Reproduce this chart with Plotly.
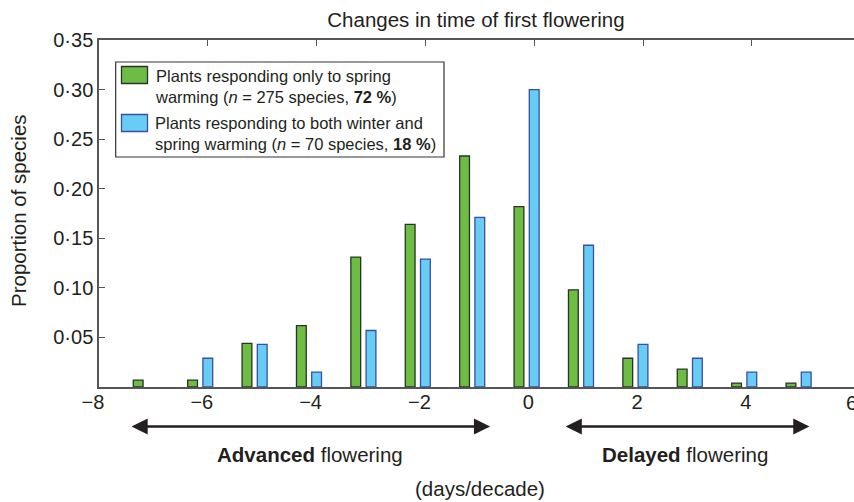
import plotly.graph_objects as go

# ---- data ----
days = [-7, -6, -5, -4, -3, -2, -1, 0, 1, 2, 3, 4, 5]
spring_only = [0.007, 0.007, 0.044, 0.062, 0.131, 0.164, 0.233, 0.182, 0.098, 0.029, 0.018, 0.004, 0.004]
winter_spring = [None, 0.029, 0.043, 0.015, 0.057, 0.129, 0.171, 0.300, 0.143, 0.043, 0.029, 0.015, 0.015]

x_tickvals = [-8, -6, -4, -2, 0, 2, 4]
x_ticktext = ["\u22128", "\u22126", "\u22124", "\u22122", "0", "2", "4"]
y_tickvals = [0.05, 0.10, 0.15, 0.20, 0.25, 0.30, 0.35]
y_ticktext = ["0\u00b705", "0\u00b710", "0\u00b715", "0\u00b720", "0\u00b725", "0\u00b730", "0\u00b735"]

name_spring = "Plants responding only to spring<br>warming (<i>n</i> = 275 species, <b>72 %</b>)"
name_both = "Plants responding to both winter and<br>spring warming (<i>n</i> = 70 species, <b>18 %</b>)"

FONT = "Arial, 'Liberation Sans', Helvetica, sans-serif"
TXT = "#231f20"
AX = "#555555"
GREEN, GREEN_LINE = "#6dbd45", "#2a3424"
BLUE, BLUE_LINE = "#68cdf5", "#3a4ea3"

W, H = 854, 502
ML, MR, MT, MB = 99, 0, 40, 115
XR = [-8, -8 + (W - ML - MR) / 54.4]

fig = go.Figure()
fig.add_trace(go.Bar(
    x=days, y=spring_only, name=name_spring,
    width=0.18, offset=-0.37,
    marker=dict(color=GREEN, line=dict(color=GREEN_LINE, width=1.3)),
))
fig.add_trace(go.Bar(
    x=days, y=winter_spring, name=name_both,
    width=0.18, offset=-0.09,
    marker=dict(color=BLUE, line=dict(color=BLUE_LINE, width=1.3)),
))

def px_x(px):
    return (px - ML) / (W - ML - MR)

def px_y(py):
    return (H - MB - py) / (H - MT - MB)

# hand-built legend box (to match the reference's large swatches)
shapes = [
    dict(type="rect", xref="paper", yref="paper",
         x0=px_x(115.7), x1=px_x(444), y0=px_y(157), y1=px_y(62),
         line=dict(color="#333333", width=1.2), fillcolor="white", layer="above"),
    dict(type="rect", xref="paper", yref="paper",
         x0=px_x(121.5), x1=px_x(147.5), y0=px_y(83.5), y1=px_y(66.5),
         line=dict(color=GREEN_LINE, width=1.3), fillcolor=GREEN, layer="above"),
    dict(type="rect", xref="paper", yref="paper",
         x0=px_x(121.5), x1=px_x(147.5), y0=px_y(131.5), y1=px_y(114.5),
         line=dict(color=BLUE_LINE, width=1.3), fillcolor=BLUE, layer="above"),
]

LEG = dict(size=16.5, color=TXT, family=FONT)
BIG = dict(size=20.5, color=TXT, family=FONT)

annotations = [
    dict(text=name_spring, xref="paper", yref="paper", align="left",
         x=px_x(153), y=px_y(86), xanchor="left", yanchor="middle",
         showarrow=False, font=LEG),
    dict(text=name_both, xref="paper", yref="paper", align="left",
         x=px_x(153), y=px_y(133.7), xanchor="left", yanchor="middle",
         showarrow=False, font=LEG),
    # y axis title
    dict(text="Proportion of species", xref="paper", yref="paper",
         x=px_x(18), y=px_y(211), xanchor="center", yanchor="middle",
         textangle=-90, showarrow=False, font=BIG),
    # x axis title
    dict(text="(days/decade)", xref="paper", yref="paper",
         x=px_x(480), y=px_y(488), xanchor="center", yanchor="middle",
         showarrow=False, font=BIG),
    # label for tick 6 (sits at the clipped right edge)
    dict(text="6", xref="paper", yref="paper",
         x=px_x(851), y=px_y(402), xanchor="center", yanchor="middle",
         showarrow=False, font=BIG),
    # arrows
    dict(x=-0.81, y=px_y(426.5), xref="x", yref="paper",
         ax=-7.43, ay=0, axref="x", ayref="pixel",
         text="", showarrow=True, arrowside="end+start", arrowhead=2,
         arrowsize=1.35, arrowwidth=2.4, arrowcolor=TXT),
    dict(x=5.06, y=px_y(426.5), xref="x", yref="paper",
         ax=0.55, ay=0, axref="x", ayref="pixel",
         text="", showarrow=True, arrowside="end+start", arrowhead=2,
         arrowsize=1.35, arrowwidth=2.4, arrowcolor=TXT),
    dict(text="<b>Advanced</b> flowering", xref="x", yref="paper",
         x=-4.12, y=px_y(454), xanchor="center", yanchor="middle",
         showarrow=False, font=BIG),
    dict(text="<b>Delayed</b> flowering", xref="x", yref="paper",
         x=2.78, y=px_y(454), xanchor="center", yanchor="middle",
         showarrow=False, font=BIG),
]

fig.update_layout(
    width=W, height=H, autosize=False,
    margin=dict(l=ML, r=MR, t=MT, b=MB, pad=0),
    paper_bgcolor="white", plot_bgcolor="white",
    barmode="overlay", showlegend=False,
    font=dict(family=FONT, color=TXT, size=20),
    title=dict(text="Changes in time of first flowering", x=px_x(476), xref="paper",
               y=1 - 20 / H, yref="container", xanchor="center", yanchor="middle",
               font=BIG),
    xaxis=dict(range=XR, showline=True, linecolor=AX, linewidth=1.5,
               ticks="", tickvals=x_tickvals, ticktext=x_ticktext,
               ticklabelshift=-6, ticklabelstandoff=-4,
               showgrid=False, zeroline=False,
               tickfont=dict(size=20, color=TXT, family=FONT)),
    xaxis2=dict(range=XR, overlaying="x", side="top", showline=True,
                linecolor=AX, linewidth=1.5, ticks="inside", ticklen=6,
                tickcolor=AX, tickwidth=1.2,
                tickvals=[-6, -4, -2, 0, 2, 4], showticklabels=False,
                showgrid=False, zeroline=False),
    yaxis=dict(range=[0, 0.35], showline=True, linecolor=AX, linewidth=1.5,
               ticks="inside", ticklen=6, tickcolor=AX, tickwidth=1.2,
               tickvals=y_tickvals, ticktext=y_ticktext,
               showgrid=False, zeroline=False,
               tickfont=dict(size=20, color=TXT, family=FONT)),
    shapes=shapes,
    annotations=annotations,
)
# invisible point to attach the top axis
fig.add_trace(go.Scatter(x=[XR[0]], y=[0], xaxis="x2", mode="markers",
                         marker=dict(opacity=0), showlegend=False, hoverinfo="skip"))

fig.write_html("out.html", config={"displayModeBar": False},
               post_script="document.body.style.margin='0';")
